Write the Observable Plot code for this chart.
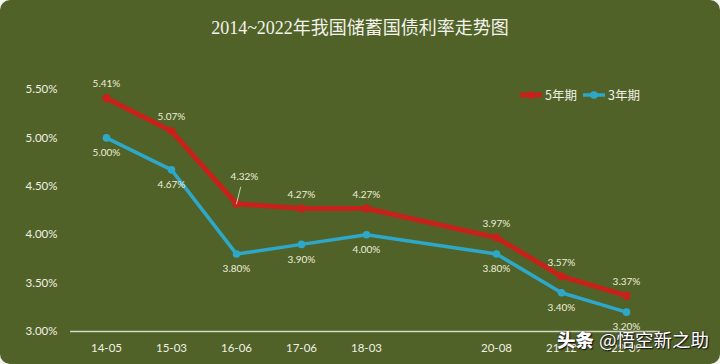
<!DOCTYPE html>
<html><head><meta charset="utf-8">
<script src="https://cdn.jsdelivr.net/npm/d3@7"></script>
<script src="https://cdn.jsdelivr.net/npm/@observablehq/plot@0.6"></script>
<style>
html,body{margin:0;padding:0;background:#f4f4f0;}
#wrap{position:relative;width:720px;height:364px;background:#516229;border-radius:10px;overflow:hidden;}
#title{position:absolute;left:0;top:15px;width:720px;text-align:center;color:#f2f2ea;font-family:"Liberation Serif","Noto Sans CJK SC",serif;font-size:18px;line-height:26px;}
#legend{position:absolute;left:519px;top:85px;display:flex;align-items:center;color:#f0f0e4;font-family:"Noto Sans CJK SC",sans-serif;font-size:12.5px;}
#legend span{display:inline-flex;align-items:center;margin-right:5px;}
#legend svg{margin-right:2px;}
#wm{position:absolute;left:557px;top:326px;color:#fff;font-family:"Noto Sans CJK SC",sans-serif;font-size:18.5px;white-space:nowrap;text-shadow:1px 1px 1px #111,0 0 2px #222;}
#wm b{font-weight:900;margin-right:5px;}
</style></head>
<body>
<div id="wrap">
<div id="chart"></div>
<div id="title"></div>
<div id="legend"></div>
<div id="wm"><b>头条</b>@悟空新之助</div>
</div>
<script>
const titleText = "2014~2022年我国储蓄国债利率走势图";
const categories = ["14-05","15-03","16-06","17-06","18-03","19","20-08","21-12","22-09"];
const tickLabels = ["14-05","15-03","16-06","17-06","18-03","","20-08","21-12","22-09"];
const seriesNames = ["5年期","3年期"];
const dates = ["14-05","15-03","16-06","17-06","18-03","20-08","21-12","22-09"];
const rate5 = [5.41,5.07,4.32,4.27,4.27,3.97,3.57,3.37];
const rate3 = [5.00,4.67,3.80,3.90,4.00,3.80,3.40,3.20];
const yTicks = [3.0,3.5,4.0,4.5,5.0,5.5];

const colors = {"5年期":"#c7221a","3年期":"#2ea8c9"};
const d5 = dates.map((d,i)=>({date:d, v:rate5[i], s:"5年期"}));
const d3s = dates.map((d,i)=>({date:d, v:rate3[i], s:"3年期"}));
const fmt = v => v.toFixed(2) + "%";
const lblColor = "#ecefd8";
const labelFont = "Lato, 'Open Sans', sans-serif";

const d5normal = d5.filter((d,i)=>i!==2);
const d5special = d5.filter((d,i)=>i===2);

const chart = Plot.plot({
  width:720, height:364,
  marginLeft:70, marginRight:60, marginTop:40, marginBottom:33,
  style:{background:"transparent", color:"#f0f0e4", fontFamily:labelFont, overflow:"visible"},
  x:{type:"point", domain:categories, range:[103,628], padding:0},
  y:{domain:[3,5.5], range:[331,89]},
  marks:[
    Plot.ruleY([3], {stroke:"#d4d8c4", strokeWidth:1.5}),
    Plot.axisY(yTicks, {tickSize:0, tickPadding:13, tickFormat:fmt, fontSize:11.5, fill:"#f0f0e4", label:null}),
    Plot.axisX({tickSize:0, tickPadding:12, tickFormat:(d)=>tickLabels[categories.indexOf(d)], fontSize:11.5, fill:"#f0f0e4", label:null}),
    Plot.line(d5, {x:"date", y:"v", stroke:colors["5年期"], strokeWidth:5, strokeLinejoin:"round"}),
    Plot.line(d3s, {x:"date", y:"v", stroke:colors["3年期"], strokeWidth:3.5, strokeLinejoin:"round"}),
    Plot.dot(d5, {x:"date", y:"v", r:4.2, fill:colors["5年期"], stroke:null}),
    Plot.dot(d3s, {x:"date", y:"v", r:3.8, fill:colors["3年期"], stroke:null}),
    Plot.text(d5normal, {x:"date", y:"v", text:d=>fmt(d.v), dy:-14, fill:lblColor, fontSize:10}),
    Plot.text(d5special, {x:"date", y:"v", text:d=>fmt(d.v), dy:-27, dx:8, fill:lblColor, fontSize:10}),
    Plot.vector(d5special, {x:"date", y:"v", length:17, rotate:14, anchor:"start", stroke:"#dfe4c8", strokeWidth:0.8, shape:{draw(ctx,l){ctx.moveTo(0,0);ctx.lineTo(0,-l);}}}),
    Plot.text(d3s, {x:"date", y:"v", text:d=>fmt(d.v), dy:15, fill:lblColor, fontSize:10})
  ]
});
document.getElementById("chart").appendChild(chart);
document.getElementById("title").textContent = titleText;

const legend = document.getElementById("legend");
seriesNames.forEach(n=>{
  const sp = document.createElement("span");
  const w = n==="5年期" ? 5 : 3.5;
  sp.innerHTML = `<svg width="24" height="10"><line x1="1" y1="5" x2="23" y2="5" stroke="${colors[n]}" stroke-width="${w}"/><circle cx="12" cy="5" r="3.8" fill="${colors[n]}"/></svg>${n}`;
  legend.appendChild(sp);
});
</script>
</body></html>
